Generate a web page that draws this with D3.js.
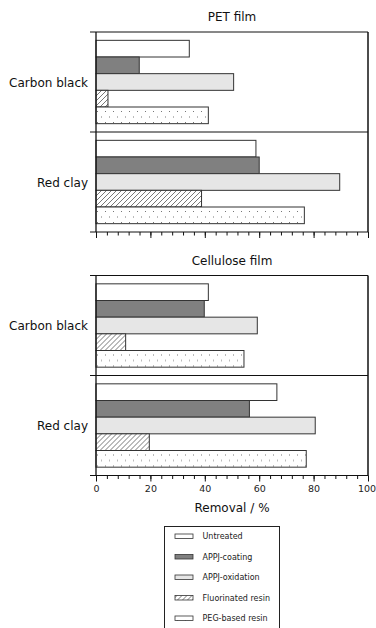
<!DOCTYPE html>
<html><head><meta charset="utf-8">
<script src="https://cdn.jsdelivr.net/npm/d3@7"></script>
<style>body{margin:0;background:#fff}svg{display:block;font-family:"DejaVu Sans",Verdana,sans-serif}</style>
</head><body>
<svg id="c" width="376" height="628"></svg>
<script>
const categories = ["Carbon black", "Red clay"];
const series = ["Untreated", "APPJ-coating", "APPJ-oxidation", "Fluorinated resin", "PEG-based resin"];
const petCarbonBlack = [34.3, 15.9, 50.6, 4.4, 41.3];
const petRedClay = [58.8, 60.0, 89.6, 38.8, 76.6];
const celCarbonBlack = [41.3, 39.8, 59.3, 10.9, 54.4];
const celRedClay = [66.5, 56.4, 80.6, 19.6, 77.3];
const xTicks = [0, 20, 40, 60, 80, 100];
const panelTitles = ["PET film", "Cellulose film"];
const axisTitle = "Removal / %";

const panels = [
  {title: panelTitles[0], data: [petCarbonBlack, petRedClay], top: 32, showLabels: false},
  {title: panelTitles[1], data: [celCarbonBlack, celRedClay], top: 275.5, showLabels: true}
];

const svg = d3.select("#c");
const defs = svg.append("defs");
const hatch = defs.append("pattern").attr("id","hatch").attr("patternUnits","userSpaceOnUse")
  .attr("width",5).attr("height",5);
hatch.append("rect").attr("width",5).attr("height",5).attr("fill","#fff");
hatch.append("path").attr("d","M-1,6 L6,-1 M-1,1 L1,-1 M4,6 L6,4").attr("stroke","#555").attr("stroke-width",0.8);
const dots = defs.append("pattern").attr("id","dots").attr("patternUnits","userSpaceOnUse")
  .attr("width",8).attr("height",11);
dots.append("rect").attr("width",8).attr("height",11).attr("fill","#fff");
dots.append("rect").attr("x",1).attr("y",2).attr("width",1).attr("height",1).attr("fill","#777");
dots.append("rect").attr("x",5).attr("y",7.5).attr("width",1).attr("height",1).attr("fill","#777");

const fills = ["#ffffff", "#808080", "#e6e6e6", "url(#hatch)", "url(#dots)"];
const color = d3.scaleOrdinal().domain(series).range(fills);

const x = d3.scaleLinear().domain([0,100]).range([96,368]);
const minorTicks = d3.range(0,101,4);

panels.forEach(p => {
  const g = svg.append("g");
  const y = d3.scaleBand().domain(categories).range([p.top, p.top+200]).paddingInner(0).paddingOuter(0);
  const yi = d3.scaleBand().domain(series).range([0, y.bandwidth()]).paddingInner(0).paddingOuter(0.5);

  g.append("text").attr("x", (x(0)+x(100))/2).attr("y", p.top-11).attr("text-anchor","middle")
    .attr("font-size",12).attr("fill","#111").text(p.title);

  categories.forEach((c, ci) => {
    const gg = g.append("g").attr("transform", `translate(0,${y(c)})`);
    gg.selectAll("rect").data(p.data[ci]).join("rect")
      .attr("x", x(0)).attr("y", (d,i)=>yi(series[i]))
      .attr("width", d => x(d)-x(0)).attr("height", yi.bandwidth())
      .attr("fill", (d,i)=>color(series[i])).attr("stroke","#333").attr("stroke-width",1);
    g.append("text").attr("x", 88).attr("y", y(c)+y.bandwidth()/2+4.5).attr("text-anchor","end")
      .attr("font-size",12).attr("fill","#111").text(c);
  });

  // frame
  const yB = p.top + 200;
  g.append("line").attr("x1",x(100)).attr("x2",x(100)).attr("y1",p.top).attr("y2",yB).attr("stroke","#111").attr("stroke-width",1.5);
  const bounds = [p.top, y(categories[1]), yB];
  g.selectAll(".hl").data(bounds).join("line")
    .attr("x1",90).attr("x2",x(100)).attr("y1",d=>d).attr("y2",d=>d)
    .attr("stroke","#111").attr("stroke-width",1);
  g.append("line").attr("x1",x(0)).attr("x2",x(0)).attr("y1",p.top).attr("y2",yB).attr("stroke","#111").attr("stroke-width",1.3);

  // x axis
  const ax = g.append("g").attr("transform",`translate(0,${yB})`);
  ax.call(d3.axisBottom(x).tickValues(minorTicks).tickSize(3.5).tickFormat(""));
  ax.call(g2=>g2.select(".domain").remove());
  const ax2 = g.append("g").attr("transform",`translate(0,${yB})`);
  ax2.call(d3.axisBottom(x).tickValues(xTicks).tickSize(6).tickPadding(4)
    .tickFormat(p.showLabels ? d3.format("d") : ""));
  ax2.select(".domain").remove();
  ax2.selectAll("text").attr("font-size",9.5).attr("font-family","DejaVu Sans, sans-serif").attr("fill","#222")
    .attr("dx", d => d === 100 ? -1.5 : 0);
  g.selectAll(".tick line").attr("stroke","#111");
});

svg.append("text").attr("x",(x(0)+x(100))/2).attr("y",511.5).attr("text-anchor","middle")
  .attr("font-size",12).attr("fill","#111").text(axisTitle);

// legend
const lg = svg.append("g");
lg.append("rect").attr("x",164.5).attr("y",526.5).attr("width",115).attr("height",110)
  .attr("fill","#fff").attr("stroke","#222").attr("stroke-width",1);
const li = lg.selectAll(".li").data(series).join("g").attr("transform",(d,i)=>`translate(0,${536+i*20.5})`);
li.append("rect").attr("x",175).attr("y",-2).attr("width",18).attr("height",4.5)
  .attr("fill", d=>color(d)).attr("stroke","#333").attr("stroke-width",0.8);
li.append("text").attr("x",202.5).attr("y",3).attr("font-size",8).attr("fill","#222").text(d=>d);
</script>
</body></html>
